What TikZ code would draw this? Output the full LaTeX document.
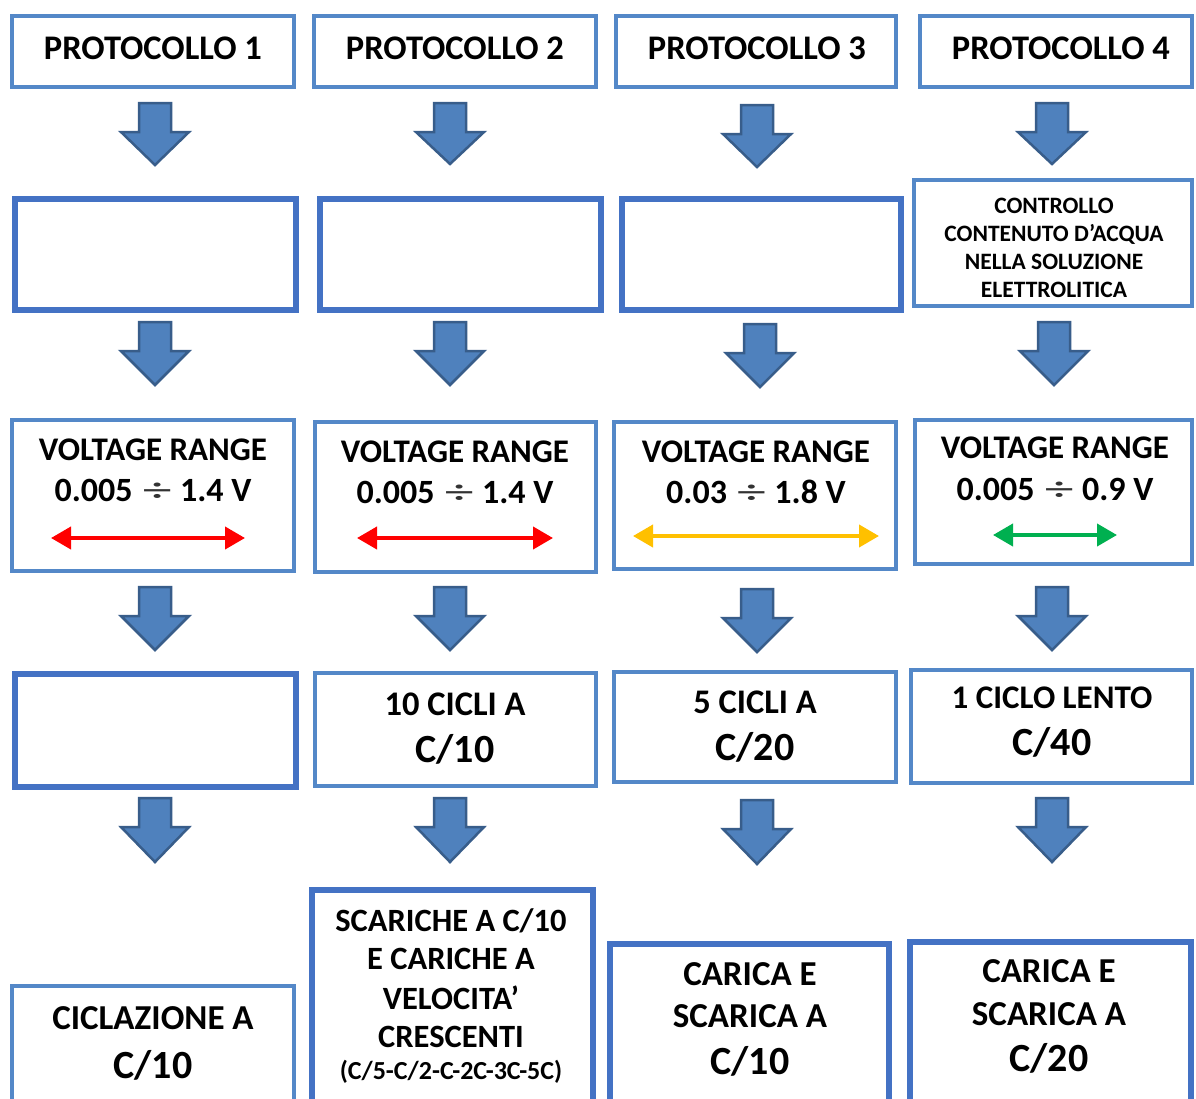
\documentclass[tikz,border=0pt]{standalone}
\usepackage{fontspec}
\setmainfont{Carlito}
\usetikzlibrary{arrows.meta}
\definecolor{boxlight}{RGB}{84,136,200}
\definecolor{boxdark}{RGB}{68,114,196}
\definecolor{arrfill}{RGB}{79,129,189}
\definecolor{arrline}{RGB}{56,93,138}
\definecolor{vred}{RGB}{255,0,0}
\definecolor{vyel}{RGB}{255,192,0}
\definecolor{vgreen}{RGB}{0,176,80}
\tikzset{
  boxA/.style={draw=boxlight, fill=white, line width=4pt, inner sep=0pt},
  boxB/.style={draw=boxdark, fill=white, line width=6pt, inner sep=0pt},
  blockarr/.style={fill=arrfill, draw=arrline, line width=2.5pt, line join=miter},
  vrange/.style={line width=4pt, {Triangle[length=20pt,width=22pt]}-{Triangle[length=20pt,width=22pt]}},
  lbl/.style={inner sep=0pt, anchor=base, text=black}
}
\newcommand{\dv}{\hspace{0.3em}{\mdseries\color{black!80}\scalebox{1.7}[1]{÷}}\hspace{0.25em}}
% box: name, style, linewidth, x1, y1, x2, y2 (outer extents, pixels)
\newcommand{\bx}[7]{%
  \pgfmathsetmacro\bxcx{(#4+#6)/2}%
  \pgfmathsetmacro\bxcy{(#5+#7)/2}%
  \pgfmathsetmacro\bxw{#6-#4-#3}%
  \pgfmathsetmacro\bxh{#7-#5-#3}%
  \node[#2, minimum width=\bxw pt, minimum height=\bxh pt] (#1) at (\bxcx,\bxcy) {};}
% label: name, x, y of mid-cap, font size, text
\newcommand{\tl}[5]{%
  \pgfmathsetmacro\tlb{#3+0.322*#4}%
  \node[lbl, font=\bfseries\fontsize{#4}{#4}\selectfont] (#1) at (#2,\tlb) {#5};}
% block arrow: centre x, top y, tip y
\newcommand{\barrow}[3]{%
  \filldraw[blockarr] ({#1-16},#2) -- ({#1+16},#2) -- ({#1+16},{#2+29}) -- ({#1+34},{#2+29})
    -- (#1,#3) -- ({#1-34},{#2+29}) -- ({#1-16},{#2+29}) -- cycle;}
\begin{document}
\begin{tikzpicture}[x=1pt,y=-1pt]
\clip (0,0) rectangle (1196,1098);
\fill[white] (0,0) rectangle (1196,1098);
% row 1
\bx{p1}{boxA}{4}{10}{14}{296}{89}
\bx{p2}{boxA}{4}{312}{14}{598}{89}
\bx{p3}{boxA}{4}{614}{14}{898}{89}
\bx{p4}{boxA}{4}{918}{14}{1194}{89}
\tl{tp1}{153}{48}{34.5}{PROTOCOLLO 1}
\tl{tp2}{455}{48}{34.5}{PROTOCOLLO 2}
\tl{tp3}{757}{48}{34.5}{PROTOCOLLO 3}
\tl{tp4}{1061}{48}{34.5}{PROTOCOLLO 4}
% arrows row 1
\barrow{155}{103}{165}
\barrow{450}{103}{164}
\barrow{757}{105}{167}
\barrow{1052}{103}{164}
% row 2
\bx{a1}{boxB}{5}{12}{196}{298}{312}
\bx{a2}{boxB}{5}{317}{196}{603}{312}
\bx{a3}{boxB}{5}{619}{196}{903}{312}
\bx{a4}{boxA}{4}{912}{178}{1194}{308}
\tl{ta4a}{1054}{206}{23.5}{CONTROLLO}
\tl{ta4b}{1054}{234}{23.5}{CONTENUTO D’ACQUA}
\tl{ta4c}{1054}{262}{23.5}{NELLA SOLUZIONE}
\tl{ta4d}{1054}{290}{23.5}{ELETTROLITICA}
% arrows row 2
\barrow{155}{322}{385}
\barrow{450}{322}{385}
\barrow{760}{324}{387}
\barrow{1054}{322}{385}
% row 3
\bx{v1}{boxA}{4}{10}{418}{296}{573}
\bx{v2}{boxA}{4}{313}{420}{598}{574}
\bx{v3}{boxA}{4}{612}{420}{898}{571}
\bx{v4}{boxA}{4}{913}{418}{1194}{566}
\tl{tv1a}{153}{450}{33}{VOLTAGE RANGE}
\tl{tv1b}{153}{491}{34}{0.005\dv1.4 V}
\tl{tv2a}{455}{452}{33}{VOLTAGE RANGE}
\tl{tv2b}{455}{493}{34}{0.005\dv1.4 V}
\tl{tv3a}{756}{452}{33}{VOLTAGE RANGE}
\tl{tv3b}{756}{493}{34}{0.03\dv1.8 V}
\tl{tv4a}{1055}{448}{33}{VOLTAGE RANGE}
\tl{tv4b}{1055}{490}{34}{0.005\dv0.9 V}
\coordinate (r1l) at (51,538);  \coordinate (r1r) at (245,538);
\coordinate (r2l) at (357,538); \coordinate (r2r) at (553,538);
\coordinate (r3l) at (633,536); \coordinate (r3r) at (879,536);
\coordinate (r4l) at (993,535); \coordinate (r4r) at (1117,535);
\draw[vrange, vred] (r1l) -- (r1r);
\draw[vrange, vred] (r2l) -- (r2r);
\draw[vrange, vyel] (r3l) -- (r3r);
\draw[vrange, vgreen] (r4l) -- (r4r);
% arrows row 3
\barrow{155}{587}{650}
\barrow{450}{587}{650}
\barrow{757}{589}{652}
\barrow{1052}{587}{650}
% row 4
\bx{c1}{boxB}{5}{12}{671}{298}{789}
\bx{c2}{boxA}{4}{313}{671}{598}{788}
\bx{c3}{boxA}{4}{612}{670}{898}{784}
\bx{c4}{boxA}{4}{909}{668}{1194}{785}
\tl{tc2a}{455}{704}{34.5}{10 CICLI A}
\tl{tc2b}{455}{750}{40}{C/10}
\tl{tc3a}{755}{702}{34.5}{5 CICLI A}
\tl{tc3b}{755}{748}{40}{C/20}
\tl{tc4a}{1052}{698}{33}{1 CICLO LENTO}
\tl{tc4b}{1052}{743}{40}{C/40}
% arrows row 4
\barrow{155}{798}{862}
\barrow{450}{798}{862}
\barrow{757}{800}{864}
\barrow{1052}{798}{862}
% row 5
\bx{f1}{boxA}{4}{10}{984}{296}{1112}
\bx{f2}{boxB}{6}{309}{887}{596}{1112}
\bx{f3}{boxB}{6}{607}{941}{892}{1112}
\bx{f4}{boxB}{6}{907}{939}{1194}{1112}
\tl{tf1a}{153}{1018}{35}{CICLAZIONE A}
\tl{tf1b}{153}{1066}{40}{C/10}
\tl{tf2a}{451}{921}{32.5}{SCARICHE A C/10}
\tl{tf2b}{451}{959}{32.5}{E CARICHE A}
\tl{tf2c}{451}{999}{32.5}{VELOCITA’}
\tl{tf2d}{451}{1037}{32.5}{CRESCENTI}
\tl{tf2e}{451}{1071}{26}{(C/5-C/2-C-2C-3C-5C)}
\tl{tf3a}{750}{974}{35}{CARICA E}
\tl{tf3b}{750}{1016}{35}{SCARICA A}
\tl{tf3c}{750}{1062}{40}{C/10}
\tl{tf4a}{1049}{971}{35}{CARICA E}
\tl{tf4b}{1049}{1014}{35}{SCARICA A}
\tl{tf4c}{1049}{1059}{40}{C/20}
\end{tikzpicture}
\end{document}
